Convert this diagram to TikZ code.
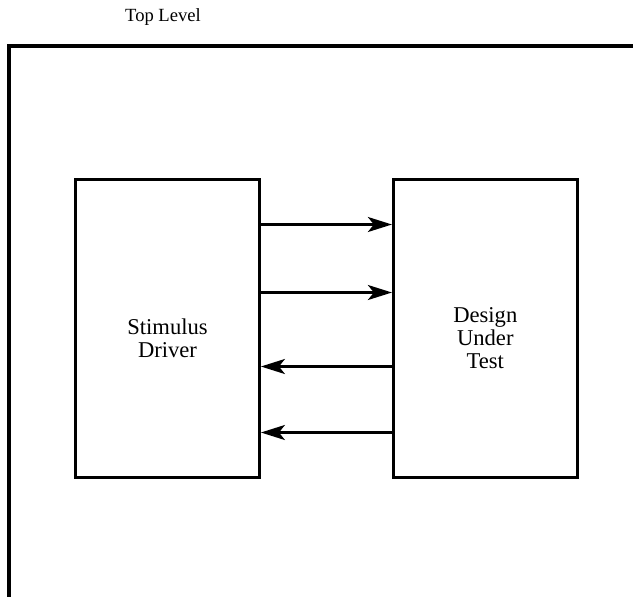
\documentclass[tikz,border=0pt]{standalone}
\usepackage{fontspec}
\setmainfont{Liberation Serif}
\usetikzlibrary{arrows.meta,positioning}

\begin{document}
\begin{tikzpicture}[
    x=0.5pt, y=-0.5pt, >={Stealth[length=12pt,width=7.5pt,inset=3pt]},
    block/.style={draw, line width=1.4pt, minimum width=92pt, minimum height=149pt},
    blocktext/.style={align=center, font=\fontsize{11.3}{11.5}\selectfont, yshift=-5pt},
    frame/.style={draw, line width=2pt},
    sig/.style={->, line width=1.3pt}]
  \useasboundingbox (0,0) rectangle (633,596);
  \node[font=\fontsize{9.3}{12}\selectfont] (title) at (163,17) {Top Level};
  \draw[frame] (634,46) -| (9,597);
  \node[block, label={[blocktext]center:Stimulus\\Driver}] (drv) at (167.5,328.5) {};
  \node[block, right=65.5pt of drv, label={[blocktext]center:Design\\Under\\Test}] (dut) {};
  % signals into the design
  \draw[sig] ([yshift=52pt]drv.east) -- ([yshift=52pt]dut.west);
  \draw[sig] ([yshift=18pt]drv.east) -- ([yshift=18pt]dut.west);
  % signals back to the driver
  \draw[sig] ([yshift=-19pt]dut.west) -- ([yshift=-19pt]drv.east);
  \draw[sig] ([yshift=-52pt]dut.west) -- ([yshift=-52pt]drv.east);
\end{tikzpicture}
\end{document}
